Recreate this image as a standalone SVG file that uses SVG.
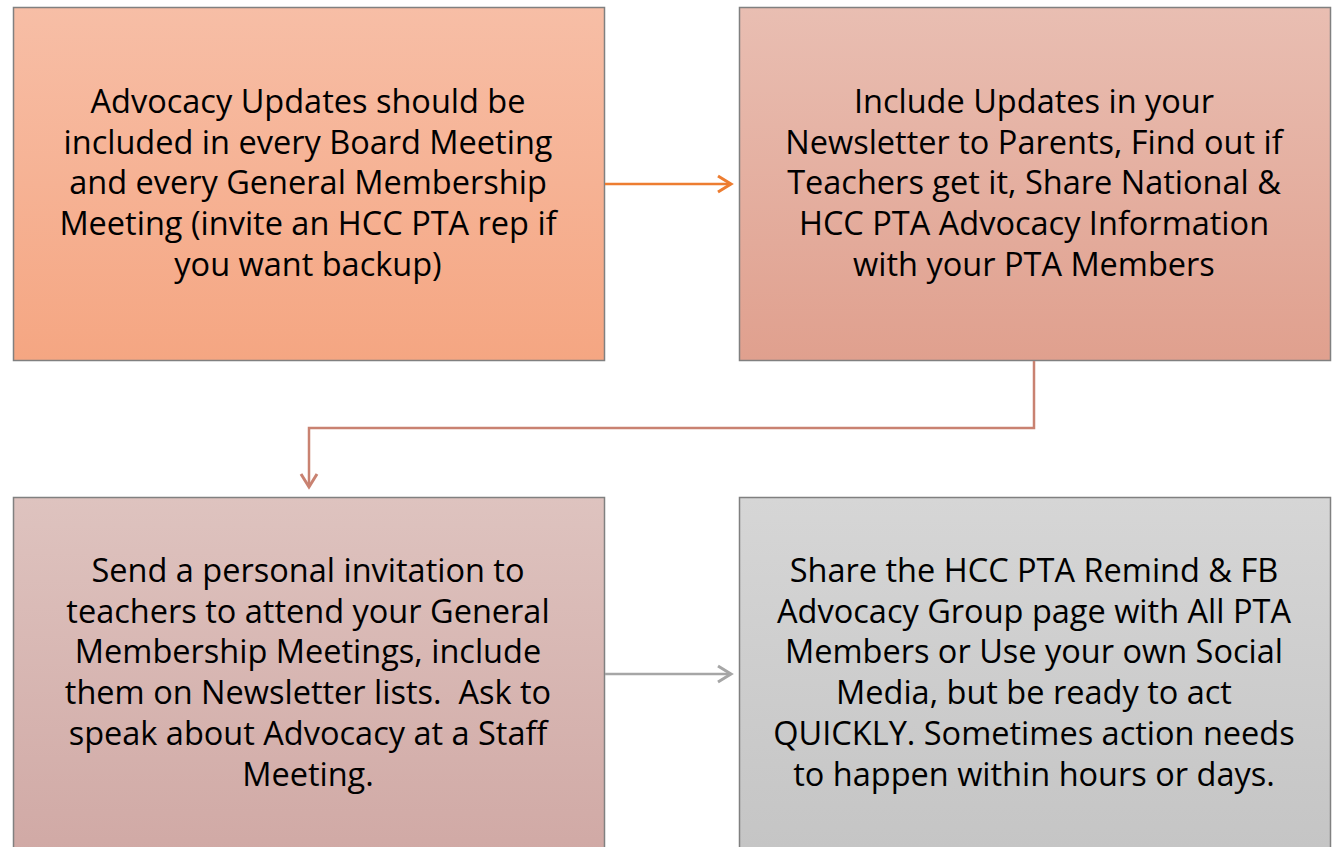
<svg xmlns="http://www.w3.org/2000/svg" width="1337" height="847" viewBox="0 0 1337 847">
<defs>
<linearGradient id="g1" x1="0" y1="0" x2="0" y2="1"><stop offset="0" stop-color="#F7BEA6"/><stop offset="1" stop-color="#F5A682"/></linearGradient>
<linearGradient id="g2" x1="0" y1="0" x2="0" y2="1"><stop offset="0" stop-color="#E9BEB2"/><stop offset="1" stop-color="#E0A08E"/></linearGradient>
<linearGradient id="g3" x1="0" y1="0" x2="0" y2="1"><stop offset="0" stop-color="#DEC3BF"/><stop offset="1" stop-color="#D0A8A4"/></linearGradient>
<linearGradient id="g4" x1="0" y1="0" x2="0" y2="1"><stop offset="0" stop-color="#D6D6D6"/><stop offset="1" stop-color="#C4C4C4"/></linearGradient>
<marker id="mo" viewBox="0 0 10 10" refX="9" refY="5" markerWidth="10" markerHeight="10" markerUnits="userSpaceOnUse" orient="auto" overflow="visible"><path d="M-4,-3 L9,5 L-4,13" fill="none" stroke="#ED7D31" stroke-width="3"/></marker>
<marker id="mr" viewBox="0 0 10 10" refX="9" refY="5" markerWidth="10" markerHeight="10" markerUnits="userSpaceOnUse" orient="auto" overflow="visible"><path d="M-4,-3 L9,5 L-4,13" fill="none" stroke="#C98271" stroke-width="3"/></marker>
<marker id="mg" viewBox="0 0 10 10" refX="9" refY="5" markerWidth="10" markerHeight="10" markerUnits="userSpaceOnUse" orient="auto" overflow="visible"><path d="M-4,-3 L9,5 L-4,13" fill="none" stroke="#A6A6A6" stroke-width="3"/></marker>
</defs>
<style>
.box{stroke:#808080;stroke-width:1.5}
.t{font-family:"Open Sans","Noto Sans",sans-serif;font-size:32.5px;fill:#000;text-anchor:middle;white-space:pre}
</style>
<g id="node1">
<rect class="box" x="13.5" y="7.5" width="591" height="353" fill="url(#g1)"/>
<text class="t" y="113"><tspan x="308">Advocacy Updates should be</tspan><tspan x="308" dy="40.7">included in every Board Meeting</tspan><tspan x="308" dy="40.7">and every General Membership</tspan><tspan x="308" dy="40.7">Meeting (invite an HCC PTA rep if</tspan><tspan x="308" dy="40.7">you want backup)</tspan></text>
</g>
<g id="node2">
<rect class="box" x="739.5" y="7.5" width="591" height="353" fill="url(#g2)"/>
<text class="t" y="113"><tspan x="1034">Include Updates in your</tspan><tspan x="1034" dy="40.7">Newsletter to Parents, Find out if</tspan><tspan x="1034" dy="40.7">Teachers get it, Share National &amp;</tspan><tspan x="1034" dy="40.7">HCC PTA Advocacy Information</tspan><tspan x="1034" dy="40.7">with your PTA Members</tspan></text>
</g>
<g id="node3">
<rect class="box" x="13.5" y="497.5" width="591" height="370" fill="url(#g3)"/>
<text class="t" y="582"><tspan x="308">Send a personal invitation to</tspan><tspan x="308" dy="40.7">teachers to attend your General</tspan><tspan x="308" dy="40.7">Membership Meetings, include</tspan><tspan x="308" dy="40.7">them on Newsletter lists.  Ask to</tspan><tspan x="308" dy="40.7">speak about Advocacy at a Staff</tspan><tspan x="308" dy="40.7">Meeting.</tspan></text>
</g>
<g id="node4">
<rect class="box" x="739.5" y="497.5" width="591" height="370" fill="url(#g4)"/>
<text class="t" y="582"><tspan x="1034">Share the HCC PTA Remind &amp; FB</tspan><tspan x="1034" dy="40.7">Advocacy Group page with All PTA</tspan><tspan x="1034" dy="40.7">Members or Use your own Social</tspan><tspan x="1034" dy="40.7">Media, but be ready to act</tspan><tspan x="1034" dy="40.7">QUICKLY. Sometimes action needs</tspan><tspan x="1034" dy="40.7">to happen within hours or days.</tspan></text>
</g>
<g id="connectors" fill="none" stroke-width="2.5">
<path d="M605,184 H731" stroke="#ED7D31" marker-end="url(#mo)"/>
<path d="M1034,361 V428 H309 V487" stroke="#C98271" marker-end="url(#mr)"/>
<path d="M605,674 H731" stroke="#A6A6A6" marker-end="url(#mg)"/>
</g>
</svg>
